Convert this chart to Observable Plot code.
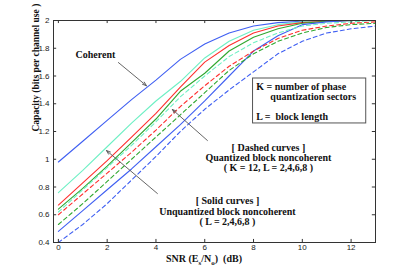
<!DOCTYPE html>
<html>
<head>
<meta charset="utf-8">
<script src="https://cdn.jsdelivr.net/npm/d3@7"></script>
<script src="https://cdn.jsdelivr.net/npm/@observablehq/plot@0.6"></script>
<style>
  html, body { margin: 0; padding: 0; background: #fff; }
  #chart { width: 414px; height: 273px; }
</style>
</head>
<body>
<div id="chart"></div>
<script>
// SNR grid (dB)
const snr = [0, 1, 2, 3, 4, 5, 6, 7, 8, 9, 10, 11, 12, 13];

// Coherent capacity
const coherent   = [0.98, 1.13, 1.28, 1.43, 1.57, 1.72, 1.83, 1.91, 1.96, 1.985, 1.995, 2.0, 2.0, 2.0];
// Unquantized block noncoherent (solid)
const solidL8    = [0.76, 0.92, 1.09, 1.26, 1.42, 1.56, 1.73, 1.85, 1.93, 1.97, 1.99, 2.0, 2.0, 2.0];
const solidL6    = [0.67, 0.83, 0.99, 1.16, 1.33, 1.52, 1.70, 1.82, 1.91, 1.96, 1.985, 1.995, 2.0, 2.0];
const solidL4    = [0.64, 0.79, 0.95, 1.12, 1.29, 1.49, 1.62, 1.78, 1.88, 1.94, 1.98, 1.995, 2.0, 2.0];
const solidL2    = [0.48, 0.63, 0.78, 0.93, 1.09, 1.25, 1.42, 1.60, 1.78, 1.89, 1.97, 1.99, 2.0, 2.0];
// Quantized block noncoherent, K = 12 (dashed)
const dashL8     = [0.62, 0.78, 0.94, 1.10, 1.27, 1.45, 1.60, 1.74, 1.84, 1.91, 1.96, 1.98, 1.99, 2.0];
const dashL6     = [0.60, 0.75, 0.90, 1.05, 1.21, 1.38, 1.53, 1.67, 1.78, 1.87, 1.93, 1.96, 1.98, 1.99];
const dashL4     = [0.53, 0.68, 0.84, 1.00, 1.16, 1.32, 1.48, 1.64, 1.76, 1.85, 1.91, 1.95, 1.97, 1.98];
const dashL2     = [0.40, 0.53, 0.68, 0.85, 1.02, 1.20, 1.36, 1.50, 1.63, 1.76, 1.85, 1.91, 1.94, 1.96];

const xTicks = [0, 2, 4, 6, 8, 10, 12];
const yTicks = [0.4, 0.6, 0.8, 1.0, 1.2, 1.4, 1.6, 1.8, 2.0];
const yTickLabels = ["0.4", "0.6", "0.8", "1", "1.2", "1.4", "1.6", "1.8", "2"];

const BLUE = "#3f5ff2", CYAN = "#6df0c4", RED = "#ff2e2e", GREEN = "#2fa82f";

const series = [
  {name: "coherent", values: coherent, color: BLUE,  dashed: false},
  {name: "L8",  values: solidL8,  color: CYAN,  dashed: false},
  {name: "L6",  values: solidL6,  color: RED,   dashed: false},
  {name: "L4",  values: solidL4,  color: GREEN, dashed: false},
  {name: "L2",  values: solidL2,  color: BLUE,  dashed: false},
  {name: "qL8", values: dashL8,   color: CYAN,  dashed: true},
  {name: "qL6", values: dashL6,   color: RED,   dashed: true},
  {name: "qL4", values: dashL4,   color: GREEN, dashed: true},
  {name: "qL2", values: dashL2,   color: BLUE,  dashed: true}
];

const rows = series.flatMap(s => s.values.map((v, i) => ({name: s.name, x: snr[i], y: v, color: s.color, dashed: s.dashed})));
const solidRows = rows.filter(d => !d.dashed);
const dashRows = rows.filter(d => d.dashed);

const X0 = -0.2, X1 = 13, Y0 = 0.4, Y1 = 2;

const serif = "'Liberation Serif', 'DejaVu Serif', serif";
const annotMiddle = [
  {x: 1.52, y: 1.75, t: "Coherent"},
  {x: 8.61, y: 1.085, t: "[ Dashed curves ]"},
  {x: 8.61, y: 1.013, t: "Quantized block noncoherent"},
  {x: 8.61, y: 0.94,  t: "( K = 12, L = 2,4,6,8 )"},
  {x: 6.93, y: 0.703, t: "[ Solid curves ]"},
  {x: 6.93, y: 0.623, t: "Unquantized block noncoherent"},
  {x: 6.93, y: 0.551, t: "( L = 2,4,6,8 )"}
];
const annotStart = [
  {x: 8.11, y: 1.524, t: "K = number of phase"},
  {x: 8.69, y: 1.452, t: "quantization sectors"},
  {x: 8.11, y: 1.308, t: "L =  block length"}
];
const arrows = [
  {x1: 2.46, y1: 1.697, x2: 3.61, y2: 1.53},
  {x1: 4.06, y1: 0.753, x2: 1.97, y2: 1.063},
  {x1: 6.11, y1: 1.135, x2: 4.67, y2: 1.359}
];
const box = [{x1: 7.98, x2: 12.62, y1: 1.258, y2: 1.582}];

const textStyle = {fontFamily: serif, fontWeight: "bold", fontSize: 10, fill: "#111"};

const plot = Plot.plot({
  width: 414,
  height: 273,
  marginLeft: 53,
  marginRight: 39,
  marginTop: 20,
  marginBottom: 31,
  x: {domain: [X0, X1]},
  y: {domain: [Y0, Y1]},
  style: {fontFamily: "'Liberation Sans', Arial, sans-serif", fontSize: "8px", color: "#222", background: "#fff"},
  marks: [
    Plot.line(solidRows, {x: "x", y: "y", z: "name", stroke: "color", strokeWidth: 1.1}),
    Plot.line(dashRows, {x: "x", y: "y", z: "name", stroke: "color", strokeWidth: 1.1, strokeDasharray: "4,3"}),
    Plot.rect(box, {x1: "x1", x2: "x2", y1: "y1", y2: "y2", fill: "white", stroke: "#555", strokeWidth: 1}),
    Plot.arrow(arrows, {x1: "x1", y1: "y1", x2: "x2", y2: "y2", stroke: "#555", strokeWidth: 0.9, headLength: 7, headAngle: 40}),
    Plot.text(annotMiddle, {x: "x", y: "y", text: "t", textAnchor: "middle", ...textStyle}),
    Plot.text(annotStart, {x: "x", y: "y", text: "t", textAnchor: "start", ...textStyle}),
    // inward ticks
    Plot.ruleX(xTicks, {x: d => d, y1: Y0, y2: Y0 + 0.022, stroke: "#333"}),
    Plot.ruleX(xTicks, {x: d => d, y1: Y1, y2: Y1 - 0.022, stroke: "#333"}),
    Plot.ruleY(yTicks, {y: d => d, x1: X0, x2: X0 + 0.13, stroke: "#333"}),
    Plot.ruleY(yTicks, {y: d => d, x1: X1, x2: X1 - 0.13, stroke: "#333"}),
    Plot.axisX(xTicks, {anchor: "bottom", tickSize: 0, tickPadding: 2, label: null}),
    Plot.axisY(yTicks, {anchor: "left", tickSize: 0, tickPadding: 4, label: null, tickFormat: (d, i) => yTickLabels[i]}),
    Plot.frame({stroke: "#333", strokeWidth: 1}),
    Plot.text(["Capacity (bits per channel use )"], {frameAnchor: "left", dx: -18, rotate: -90, fontFamily: serif, fontWeight: "bold", fontSize: 9.5, fill: "#111"})
  ]
});

// x-axis label with subscripts
const svg = d3.select(plot);
const lab = svg.append("text")
  .attr("x", 204).attr("y", 262)
  .attr("text-anchor", "middle")
  .attr("font-family", serif)
  .attr("font-weight", "bold")
  .attr("font-size", 10)
  .attr("fill", "#111");
lab.append("tspan").text("SNR (E");
lab.append("tspan").attr("font-size", 7).attr("dy", 3).text("s");
lab.append("tspan").attr("dy", -3).text("/N");
lab.append("tspan").attr("font-size", 7).attr("dy", 3).text("o");
lab.append("tspan").attr("dy", -3).text(")  (dB)");

document.getElementById("chart").appendChild(plot);
</script>
</body>
</html>
